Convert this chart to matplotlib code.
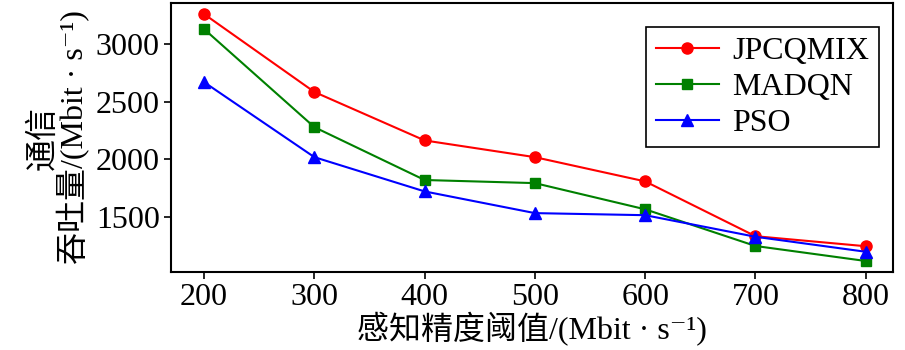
import matplotlib
matplotlib.use('Agg')
import matplotlib.pyplot as plt

# --- DATA ---
thresholds = [200, 300, 400, 500, 600, 700, 800]
jpcqmix = [3260, 2585, 2165, 2020, 1810, 1335, 1248]
madqn = [3130, 2280, 1822, 1795, 1568, 1250, 1120]
pso = [2670, 2020, 1723, 1535, 1517, 1330, 1200]
series_names = ['JPCQMIX', 'MADQN', 'PSO']
y_ticks = [1500, 2000, 2500, 3000]

plt.rcParams['font.family'] = ['Liberation Serif', 'Noto Sans CJK SC', 'DejaVu Serif']
FS = 23

fig = plt.figure(figsize=(9.05, 3.5), dpi=100)
ax = fig.add_axes([0.189, 0.223, 0.798, 0.768])

ax.plot(thresholds, jpcqmix, color='#ff0000', marker='o', ms=8, lw=1.5, label=series_names[0])
ax.plot(thresholds, madqn, color='#008000', marker='s', ms=7.5, lw=1.5, label=series_names[1])
ax.plot(thresholds, pso, color='#0000ff', marker='^', ms=8, lw=1.5, label=series_names[2])

ax.set_xlim(170, 825)
ax.set_ylim(1025, 3355)
ax.set_xticks(thresholds)
ax.set_yticks(y_ticks)
ax.tick_params(direction='out', length=5, width=1.2, labelsize=FS, pad=3)
for s in ax.spines.values():
    s.set_linewidth(1.5)

ax.set_xlabel('感知精度阈值/(Mbit · s⁻¹)', fontsize=FS, labelpad=0)
ax.set_ylabel('通信\n吞吐量/(Mbit · s⁻¹)', fontsize=FS, labelpad=4, linespacing=0.95)

leg = ax.legend(loc='upper right', bbox_to_anchor=(0.98, 0.91), borderaxespad=0,
                fancybox=False, edgecolor='black', framealpha=1, fontsize=FS,
                handlelength=2.0, handletextpad=0.4, borderpad=0.3, labelspacing=0.2)
leg.get_frame().set_linewidth(1.2)

fig.savefig('out.png', dpi=100)
